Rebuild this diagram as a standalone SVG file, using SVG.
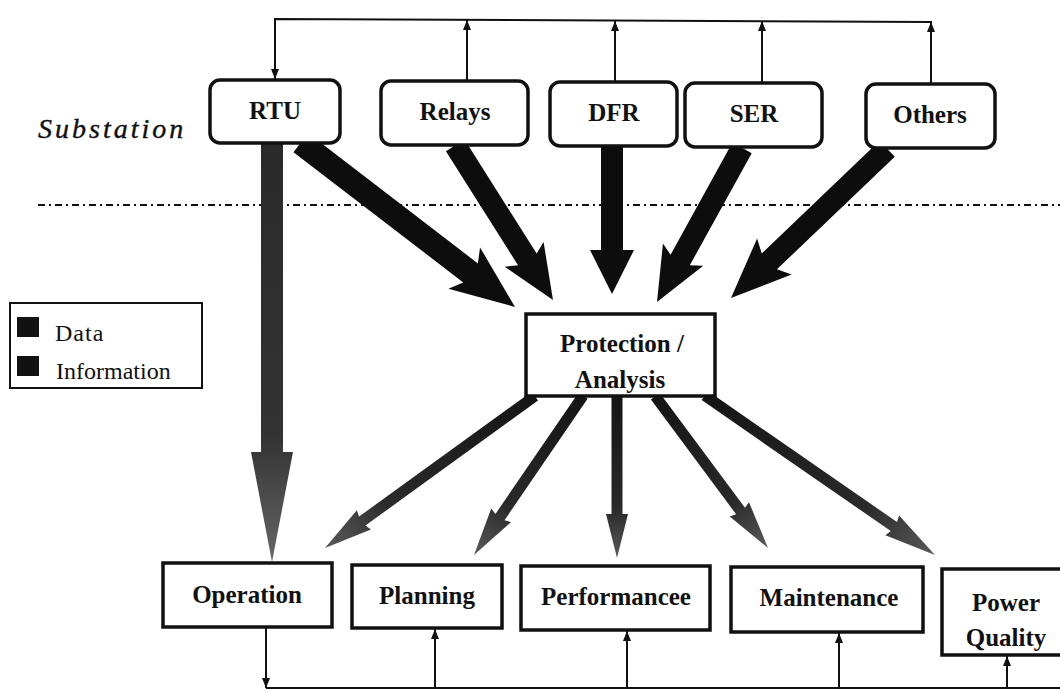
<svg xmlns="http://www.w3.org/2000/svg" width="1060" height="692" viewBox="0 0 1060 692">
<defs>
<style>
.rbox{fill:#fff;stroke:#111;stroke-width:3.5}
.box{fill:#fff;stroke:#111;stroke-width:3.5}
.lbl{font-family:"Liberation Serif","Times New Roman",serif;font-weight:bold;font-size:25px;fill:#111;text-anchor:middle}
.leg{font-family:"Liberation Serif","Times New Roman",serif;font-size:24px;fill:#111}
.thin{fill:none;stroke:#111;stroke-width:2}
.data{fill:#0d0d0d}
.info{fill:url(#gInfo)}
</style>
<linearGradient id="gInfo" x1="0" y1="0" x2="1" y2="0">
<stop offset="0" stop-color="#151515"/>
<stop offset="0.7" stop-color="#2a2a2a"/>
<stop offset="1" stop-color="#5a5a5a"/>
</linearGradient>
<linearGradient id="gOp" x1="0" y1="0" x2="1" y2="0">
<stop offset="0" stop-color="#2a2a2a"/>
<stop offset="0.7" stop-color="#333"/>
<stop offset="1" stop-color="#666"/>
</linearGradient>
<marker id="ah" viewBox="0 0 10 8" refX="10" refY="4" markerWidth="10" markerHeight="8" orient="auto" markerUnits="userSpaceOnUse">
<path d="M0,0 L10,4 L0,8 Z" fill="#111"/>
</marker>
</defs>
<rect width="1060" height="692" fill="#fff"/>

<text x="38" y="138" font-family="'Liberation Serif','Times New Roman',serif" font-style="italic" font-size="28" letter-spacing="3" fill="#111" stroke="#111" stroke-width="0.4">Substation</text>
<line x1="38" y1="205" x2="1060" y2="205" stroke="#111" stroke-width="2" stroke-dasharray="7 4 2 4"/>

<g id="connectors">
<polyline class="thin" points="275,79 275,19 932,22"/>
<line class="thin" x1="275" y1="40" x2="275" y2="79" marker-end="url(#ah)"/>
<line class="thin" x1="467" y1="80" x2="467" y2="20" marker-end="url(#ah)"/>
<line class="thin" x1="615" y1="82" x2="615" y2="21" marker-end="url(#ah)"/>
<line class="thin" x1="762" y1="83" x2="762" y2="21" marker-end="url(#ah)"/>
<line class="thin" x1="931" y1="84" x2="931" y2="22" marker-end="url(#ah)"/>
<line class="thin" x1="266" y1="688" x2="1060" y2="688"/>
<line class="thin" x1="266" y1="628" x2="266" y2="688" marker-end="url(#ah)"/>
<line class="thin" x1="435" y1="688" x2="435" y2="629" marker-end="url(#ah)"/>
<line class="thin" x1="627" y1="688" x2="627" y2="631" marker-end="url(#ah)"/>
<line class="thin" x1="839" y1="688" x2="839" y2="633" marker-end="url(#ah)"/>
<line class="thin" x1="1007" y1="688" x2="1007" y2="656" marker-end="url(#ah)"/>
<path fill="url(#gOp)" transform="translate(272,562) rotate(90)" d="M0,0 L-110,-21 L-110,-11 L-419,-11 L-419,11 L-110,11 L-110,21 Z"/>
<path class="data" transform="translate(515,307) rotate(37.5)" d="M0,0 L-64,-26 L-56,-12 L-270,-12 L-270,12 L-56,12 L-64,26 Z"/>
<path class="data" transform="translate(553,300) rotate(57.7)" d="M0,0 L-54,-23 L-48,-11 L-183,-11 L-183,11 L-48,11 L-54,23 Z"/>
<path class="data" transform="translate(612,294) rotate(90)" d="M0,0 L-44,-22 L-44,-11 L-148,-11 L-148,11 L-44,11 L-44,22 Z"/>
<path class="data" transform="translate(657,302) rotate(118.9)" d="M0,0 L-54,-23 L-48,-11 L-176,-11 L-176,11 L-48,11 L-54,23 Z"/>
<path class="data" transform="translate(731,298) rotate(136.3)" d="M0,0 L-60,-25 L-53,-11 L-216,-11 L-216,11 L-53,11 L-60,25 Z"/>
<path class="info" transform="translate(325,548) rotate(144.1)" d="M0,0 L-48,-12 L-46,-5.5 L-259,-5.5 L-259,5.5 L-46,5.5 L-48,12 Z"/>
<path class="info" transform="translate(474,555) rotate(124.4)" d="M0,0 L-48,-12 L-46,-5.5 L-193,-5.5 L-193,5.5 L-46,5.5 L-48,12 Z"/>
<path class="info" transform="translate(617,558) rotate(90)" d="M0,0 L-44,-11 L-44,-5.5 L-162,-5.5 L-162,5.5 L-44,5.5 L-44,11 Z"/>
<path class="info" transform="translate(768,548) rotate(53.4)" d="M0,0 L-48,-12 L-46,-5.5 L-189,-5.5 L-189,5.5 L-46,5.5 L-48,12 Z"/>
<path class="info" transform="translate(935,555) rotate(34.7)" d="M0,0 L-52,-12 L-50,-5.5 L-280,-5.5 L-280,5.5 L-50,5.5 L-52,12 Z"/>
</g>

<g id="legend">
<rect x="10" y="303" width="192" height="85" fill="#fff" stroke="#111" stroke-width="2"/>
<rect x="17" y="317" width="22" height="20" fill="#111"/>
<rect x="17" y="356" width="22" height="20" fill="#111"/>
<text class="leg" x="55" y="341" letter-spacing="1">Data</text>
<text class="leg" x="56" y="379">Information</text>
</g>

<g id="node-rtu"><rect class="rbox" x="210" y="80" width="130" height="63" rx="10"/><text class="lbl" x="275" y="119">RTU</text></g>
<g id="node-relays"><rect class="rbox" x="381" y="81" width="147" height="64" rx="10"/><text class="lbl" x="455" y="120">Relays</text></g>
<g id="node-dfr"><rect class="rbox" x="550" y="82" width="127" height="64" rx="10"/><text class="lbl" x="614" y="121">DFR</text></g>
<g id="node-ser"><rect class="rbox" x="685" y="83" width="137" height="64" rx="10"/><text class="lbl" x="754" y="122">SER</text></g>
<g id="node-others"><rect class="rbox" x="866" y="84" width="129" height="64" rx="10"/><text class="lbl" x="930" y="123">Others</text></g>

<g id="node-protection"><rect class="box" x="526" y="314" width="189" height="82"/><text class="lbl" x="622" y="352">Protection /</text><text class="lbl" x="620" y="388">Analysis</text></g>

<g id="node-operation"><rect class="box" x="163" y="563" width="169" height="64"/><text class="lbl" x="247" y="603">Operation</text></g>
<g id="node-planning"><rect class="box" x="352" y="565" width="150" height="63"/><text class="lbl" x="427" y="604">Planning</text></g>
<g id="node-performance"><rect class="box" x="521" y="566" width="189" height="64"/><text class="lbl" x="616" y="605">Performancee</text></g>
<g id="node-maintenance"><rect class="box" x="731" y="567" width="192" height="65"/><text class="lbl" x="829" y="606">Maintenance</text></g>
<g id="node-powerquality"><rect class="box" x="942" y="569" width="125" height="86"/><text class="lbl" x="1006" y="611">Power</text><text class="lbl" x="1006" y="646">Quality</text></g>
</svg>
